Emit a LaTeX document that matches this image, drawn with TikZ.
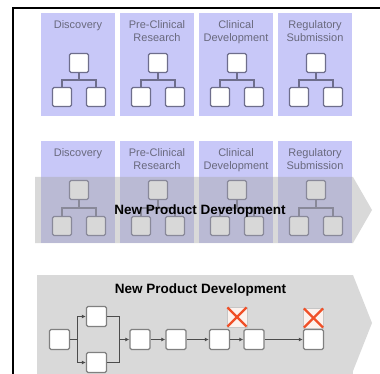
\documentclass[tikz,border=0pt]{standalone}
\usepackage{fontspec}
\setmainfont{Liberation Sans}
\usetikzlibrary{arrows.meta}
\definecolor{panel}{RGB}{200,200,248}
\definecolor{ptext}{RGB}{105,105,125}
\definecolor{tline}{RGB}{110,110,140}
\definecolor{band}{RGB}{170,170,170}
\definecolor{bband}{RGB}{217,217,217}
\definecolor{bline}{RGB}{128,128,128}
\definecolor{xred}{RGB}{240,80,40}
\definecolor{xfill}{RGB}{252,242,238}
\begin{document}
\begin{tikzpicture}[x=1pt,y=-1pt,
  panelbox/.style={fill=panel, draw=none, minimum width=74pt, inner sep=0pt},
  ptxt/.style={font=\fontsize{11}{12.5}\selectfont, text=ptext, align=center, anchor=north, inner sep=0pt},
  tbox/.style={draw=tline, fill=white, line width=1.3pt, minimum size=19pt, inner sep=0pt, rounded corners=1.5pt},
  tlink/.style={draw=tline, line width=1.3pt},
  fbox/.style={draw=bline, fill=white, line width=1.4pt, minimum size=20pt, inner sep=0pt, rounded corners=1.5pt},
  flink/.style={draw=black!70, line width=1pt},
  farrow/.style={flink, -{Latex[length=4pt,width=4pt]}},
  xbox/.style={draw=gray!45, fill=xfill, line width=0.6pt, minimum size=20pt, inner sep=0pt},
  xline/.style={draw=xred, line width=2.2pt, shorten >=1pt, shorten <=1pt},
  title/.style={font=\fontsize{13.5}{14}\selectfont\bfseries, text=black, inner sep=0pt},
]
\useasboundingbox (0,0) rectangle (380,374);

% frame
\draw[line width=1.5pt] (13,374) -- (13,8);
\draw[line width=2.2pt] (12.25,8) -- (380,8);

% ---------- top row ----------
\foreach \i/\cx/\lab in {1/78/{Discovery}, 2/157/{Pre-Clinical\\Research}, 3/236/{Clinical\\Development}, 4/315/{Regulatory\\Submission}}{
  \node[panelbox, minimum height=103pt] (pa\i) at (\cx,64.5) {};
  \node[ptxt] (la\i) at (\cx,20.5) {\lab};
  \node[tbox] (ta\i) at (\cx+1,63) {};
  \node[tbox] (tl\i) at (\cx-16,97) {};
  \node[tbox] (tr\i) at (\cx+18,97) {};
  \coordinate (tj\i) at (\cx+1,80);
  \draw[tlink] (ta\i.south) -- (tj\i);
  \draw[tlink] (tl\i.north) |- (tj\i) -| (tr\i.north);
}

% ---------- middle row ----------
\foreach \i/\cx/\lab in {1/78/{Discovery}, 2/157/{Pre-Clinical\\Research}, 3/236/{Clinical\\Development}, 4/315/{Regulatory\\Submission}}{
  \node[panelbox, minimum height=102pt] (pb\i) at (\cx,192) {};
  \node[ptxt] (lb\i) at (\cx,148.5) {\lab};
  \node[tbox] (ma\i) at (\cx+1,190) {};
  \node[tbox] (ml\i) at (\cx-16,226) {};
  \node[tbox] (mr\i) at (\cx+18,226) {};
  \coordinate (mj\i) at (\cx+1,208);
  \draw[tlink] (ma\i.south) -- (mj\i);
  \draw[tlink] (ml\i.north) |- (mj\i) -| (mr\i.north);
}
\fill[band, opacity=0.45] (35,177) -- (353,177) -- (372,210) -- (353,243) -- (35,243) -- cycle;
\node[title] (npd1) at (200,211) {New Product Development};

% ---------- bottom row ----------
\fill[bband] (37,275) -- (353,275) -- (372,323) -- (353,371) -- (37,371) -- cycle;
\fill[bband] (37,371) rectangle (353,374);
\node[title] (npd2) at (200.5,290) {New Product Development};

\node[fbox] (b1) at (59.5,339.5) {};
\node[fbox] (b2) at (96.5,316.5) {};
\node[fbox] (b3) at (96.5,362.5) {};
\node[fbox] (b4) at (140,339.5) {};
\node[fbox] (b5) at (176,339.5) {};
\node[fbox] (b6) at (219.5,339.5) {};
\node[fbox] (b7) at (254,339.5) {};
\node[fbox] (b8) at (313.5,339.5) {};

\coordinate (j1) at (77,339.5);
\coordinate (j2) at (119,339.5);
\draw[flink] (b1.east) -- (j1);
\draw[farrow] (j1) |- (b2.west);
\draw[farrow] (j1) |- (b3.west);
\draw[flink] (b2.east) -| (j2);
\draw[flink] (b3.east) -| (j2);
\draw[farrow] (j2) -- (b4.west);
\draw[farrow] (b4) -- (b5);
\draw[farrow] (b5) -- (b6);
\draw[farrow] (b6) -- (b7);
\draw[farrow] (b7) -- (b8);

\node[xbox] (x1) at (237,317) {};
\draw[xline] (x1.north west) -- (x1.south east);
\draw[xline] (x1.south west) -- (x1.north east);
\node[xbox] (x2) at (313.5,318) {};
\draw[xline] (x2.north west) -- (x2.south east);
\draw[xline] (x2.south west) -- (x2.north east);
\end{tikzpicture}
\end{document}
